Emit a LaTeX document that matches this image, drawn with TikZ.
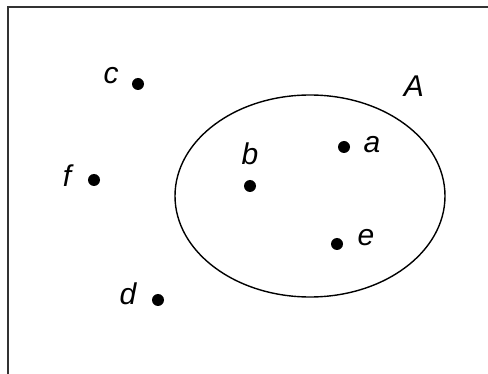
\documentclass[tikz,border=0pt]{standalone}
\usepackage{fontspec}
\setmainfont{Liberation Sans}
\begin{document}
\begin{tikzpicture}[x=1pt,y=-1pt,
  dot/.style={circle,fill=black,inner sep=0pt,minimum size=12pt},
  lbl/.style={inner sep=0pt,font=\fontsize{30}{30}\selectfont\itshape}]
  \useasboundingbox (0,0) rectangle (488,374);
  \draw[line width=2pt,black!80] (8,374) -- (8,7) -- (488,7);
  \draw[line width=1.4pt] (310,196) ellipse (135 and 101);

  % points of the universe
  \node[dot] (c) at (138,84) {};
  \node[dot] (f) at (94,180) {};
  \node[dot] (d) at (158,300) {};
  \node[dot] (b) at (250,186) {};
  \node[dot] (a) at (344,147) {};
  \node[dot] (e) at (337,244) {};

  \node[lbl] (cl) at (111,76) {c};
  \node[lbl] (fl) at (67,176) {f};
  \node[lbl] (dl) at (128,294) {d};
  \node[lbl] (bl) at (250,154) {b};
  \node[lbl] (al) at (372,145) {a};
  \node[lbl] (el) at (366,238) {e};
  \node[lbl] (Al) at (414,86) {A};
\end{tikzpicture}
\end{document}
